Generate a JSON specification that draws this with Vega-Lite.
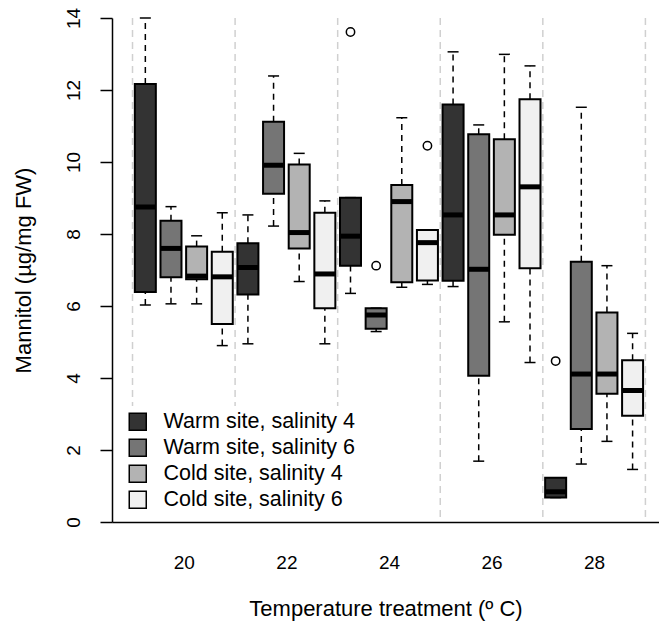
{
  "$schema": "https://vega.github.io/schema/vega-lite/v6.json",
  "width": 547,
  "height": 504,
  "autosize": {"type": "none"},
  "padding": {"left": 112, "top": 18, "right": 0, "bottom": 104},
  "background": "white",
  "config": {
    "font": "Liberation Sans",
    "view": {"stroke": null},
    "scale": {"continuousPadding": 0},
    "axis": {"labelFont": "Liberation Sans", "titleFont": "Liberation Sans", "labelColor": "black", "titleColor": "black", "titleFontWeight": "normal"}
  },
  "datasets": {
    "boxes": [
      {"temp": 20, "group": "Warm site, salinity 4", "pos": 1, "lo": 6.03, "q1": 6.39, "med": 8.75, "q3": 12.17, "hi": 14.0},
      {"temp": 20, "group": "Warm site, salinity 6", "pos": 2, "lo": 6.06, "q1": 6.80, "med": 7.60, "q3": 8.37, "hi": 8.76},
      {"temp": 20, "group": "Cold site, salinity 4", "pos": 3, "lo": 6.06, "q1": 6.74, "med": 6.83, "q3": 7.65, "hi": 7.95},
      {"temp": 20, "group": "Cold site, salinity 6", "pos": 4, "lo": 4.90, "q1": 5.50, "med": 6.81, "q3": 7.51, "hi": 8.59},
      {"temp": 22, "group": "Warm site, salinity 4", "pos": 5, "lo": 4.95, "q1": 6.32, "med": 7.07, "q3": 7.74, "hi": 8.53},
      {"temp": 22, "group": "Warm site, salinity 6", "pos": 6, "lo": 8.22, "q1": 9.12, "med": 9.91, "q3": 11.12, "hi": 12.39},
      {"temp": 22, "group": "Cold site, salinity 4", "pos": 7, "lo": 6.68, "q1": 7.60, "med": 8.04, "q3": 9.93, "hi": 10.24},
      {"temp": 22, "group": "Cold site, salinity 6", "pos": 8, "lo": 4.95, "q1": 5.94, "med": 6.89, "q3": 8.59, "hi": 8.92},
      {"temp": 24, "group": "Warm site, salinity 4", "pos": 9, "lo": 6.35, "q1": 7.12, "med": 7.94, "q3": 9.01, "hi": 9.01},
      {"temp": 24, "group": "Warm site, salinity 6", "pos": 10, "lo": 5.29, "q1": 5.37, "med": 5.75, "q3": 5.94, "hi": 5.94},
      {"temp": 24, "group": "Cold site, salinity 4", "pos": 11, "lo": 6.52, "q1": 6.66, "med": 8.90, "q3": 9.36, "hi": 11.23},
      {"temp": 24, "group": "Cold site, salinity 6", "pos": 12, "lo": 6.60, "q1": 6.71, "med": 7.76, "q3": 8.11, "hi": 8.11},
      {"temp": 26, "group": "Warm site, salinity 4", "pos": 13, "lo": 6.54, "q1": 6.70, "med": 8.53, "q3": 11.60, "hi": 13.06},
      {"temp": 26, "group": "Warm site, salinity 6", "pos": 14, "lo": 1.69, "q1": 4.06, "med": 7.02, "q3": 10.77, "hi": 11.03},
      {"temp": 26, "group": "Cold site, salinity 4", "pos": 15, "lo": 5.56, "q1": 7.98, "med": 8.53, "q3": 10.63, "hi": 12.99},
      {"temp": 26, "group": "Cold site, salinity 6", "pos": 16, "lo": 4.43, "q1": 7.05, "med": 9.31, "q3": 11.74, "hi": 12.67},
      {"temp": 28, "group": "Warm site, salinity 4", "pos": 17, "lo": 0.68, "q1": 0.68, "med": 0.84, "q3": 1.23, "hi": 1.23},
      {"temp": 28, "group": "Warm site, salinity 6", "pos": 18, "lo": 1.61, "q1": 2.58, "med": 4.11, "q3": 7.23, "hi": 11.52},
      {"temp": 28, "group": "Cold site, salinity 4", "pos": 19, "lo": 2.24, "q1": 3.56, "med": 4.11, "q3": 5.82, "hi": 7.12},
      {"temp": 28, "group": "Cold site, salinity 6", "pos": 20, "lo": 1.46, "q1": 2.95, "med": 3.65, "q3": 4.49, "hi": 5.24}
    ],
    "outliers": [
      {"temp": 24, "group": "Warm site, salinity 4", "pos": 9, "value": 13.61},
      {"temp": 24, "group": "Warm site, salinity 6", "pos": 10, "value": 7.12},
      {"temp": 24, "group": "Cold site, salinity 6", "pos": 12, "value": 10.45},
      {"temp": 28, "group": "Warm site, salinity 4", "pos": 17, "value": 4.47}
    ],
    "separators": [
      {"boundary": 0.5}, {"boundary": 4.5}, {"boundary": 8.5}, {"boundary": 12.5}, {"boundary": 16.5}, {"boundary": 20.5}
    ]
  },
  "layer": [
    {
      "data": {"name": "separators"},
      "mark": {"type": "rule", "color": "#d0d0d0", "strokeWidth": 1.5, "strokeDash": [7, 5]},
      "encoding": {
        "x": {"field": "boundary", "type": "quantitative", "scale": {"domain": [-0.3, 21.03], "nice": false, "zero": false, "padding": 0}, "axis": {"values": [2.5, 6.5, 10.5, 14.5, 18.5], "labelExpr": "toString(18.75 + datum.value / 2)", "ticks": false, "grid": false, "domain": true, "domainColor": "black", "domainWidth": 1.5, "labelFontSize": 19, "labelPadding": 31, "title": "Temperature treatment (º C)", "titleFontSize": 22, "titlePadding": 26}}
      }
    },
    {
      "data": {"name": "boxes"},
      "mark": {"type": "rule", "color": "black", "strokeWidth": 1.5, "strokeDash": [6, 5]},
      "encoding": {
        "x": {"field": "pos", "type": "quantitative"},
        "y": {"field": "lo", "type": "quantitative"},
        "y2": {"field": "q1"}
      }
    },
    {
      "data": {"name": "boxes"},
      "mark": {"type": "rule", "color": "black", "strokeWidth": 1.5, "strokeDash": [6, 5]},
      "encoding": {
        "x": {"field": "pos", "type": "quantitative"},
        "y": {"field": "q3", "type": "quantitative"},
        "y2": {"field": "hi"}
      }
    },
    {
      "data": {"name": "boxes"},
      "mark": {"type": "tick", "orient": "horizontal", "color": "black", "size": 11, "thickness": 1.5, "opacity": 1},
      "encoding": {
        "x": {"field": "pos", "type": "quantitative"},
        "y": {"field": "lo", "type": "quantitative"}
      }
    },
    {
      "data": {"name": "boxes"},
      "mark": {"type": "tick", "orient": "horizontal", "color": "black", "size": 11, "thickness": 1.5, "opacity": 1},
      "encoding": {
        "x": {"field": "pos", "type": "quantitative"},
        "y": {"field": "hi", "type": "quantitative"}
      }
    },
    {
      "data": {"name": "boxes"},
      "mark": {"type": "bar", "width": 21, "stroke": "black", "strokeWidth": 2, "opacity": 1},
      "encoding": {
        "x": {"field": "pos", "type": "quantitative"},
        "y": {"field": "q1", "type": "quantitative", "scale": {"domain": [0, 14], "nice": false, "padding": 0}, "axis": {"values": [0, 2, 4, 6, 8, 10, 12, 14], "grid": false, "domain": true, "domainColor": "black", "domainWidth": 1.5, "ticks": true, "tickColor": "black", "tickWidth": 1.5, "tickSize": 12, "labelFontSize": 19, "labelAngle": -90, "labelAlign": "center", "labelBaseline": "bottom", "labelPadding": 17, "title": "Mannitol (µg/mg FW)", "titleFontSize": 22, "titlePadding": 29}},
        "y2": {"field": "q3"},
        "fill": {"field": "group", "type": "nominal", "scale": {"domain": ["Warm site, salinity 4", "Warm site, salinity 6", "Cold site, salinity 4", "Cold site, salinity 6"], "range": ["#333333", "#757575", "#b3b3b3", "#f0f0f0"]}, "legend": {"title": null, "orient": "none", "legendX": 10, "legendY": 388, "padding": 5, "fillColor": "white", "symbolType": "square", "symbolSize": 289, "symbolStrokeColor": "black", "symbolStrokeWidth": 1.5, "symbolOpacity": 1, "labelFontSize": 21.5, "labelFont": "Liberation Sans", "labelColor": "black", "labelOffset": 15, "labelLimit": 0, "rowPadding": 2}}
      }
    },
    {
      "data": {"name": "boxes"},
      "mark": {"type": "tick", "orient": "horizontal", "color": "black", "size": 21, "thickness": 5, "opacity": 1},
      "encoding": {
        "x": {"field": "pos", "type": "quantitative"},
        "y": {"field": "med", "type": "quantitative"}
      }
    },
    {
      "data": {"name": "outliers"},
      "mark": {"type": "point", "shape": "circle", "filled": false, "color": "black", "strokeWidth": 1.5, "size": 70, "opacity": 1},
      "encoding": {
        "x": {"field": "pos", "type": "quantitative"},
        "y": {"field": "value", "type": "quantitative"}
      }
    }
  ]
}
